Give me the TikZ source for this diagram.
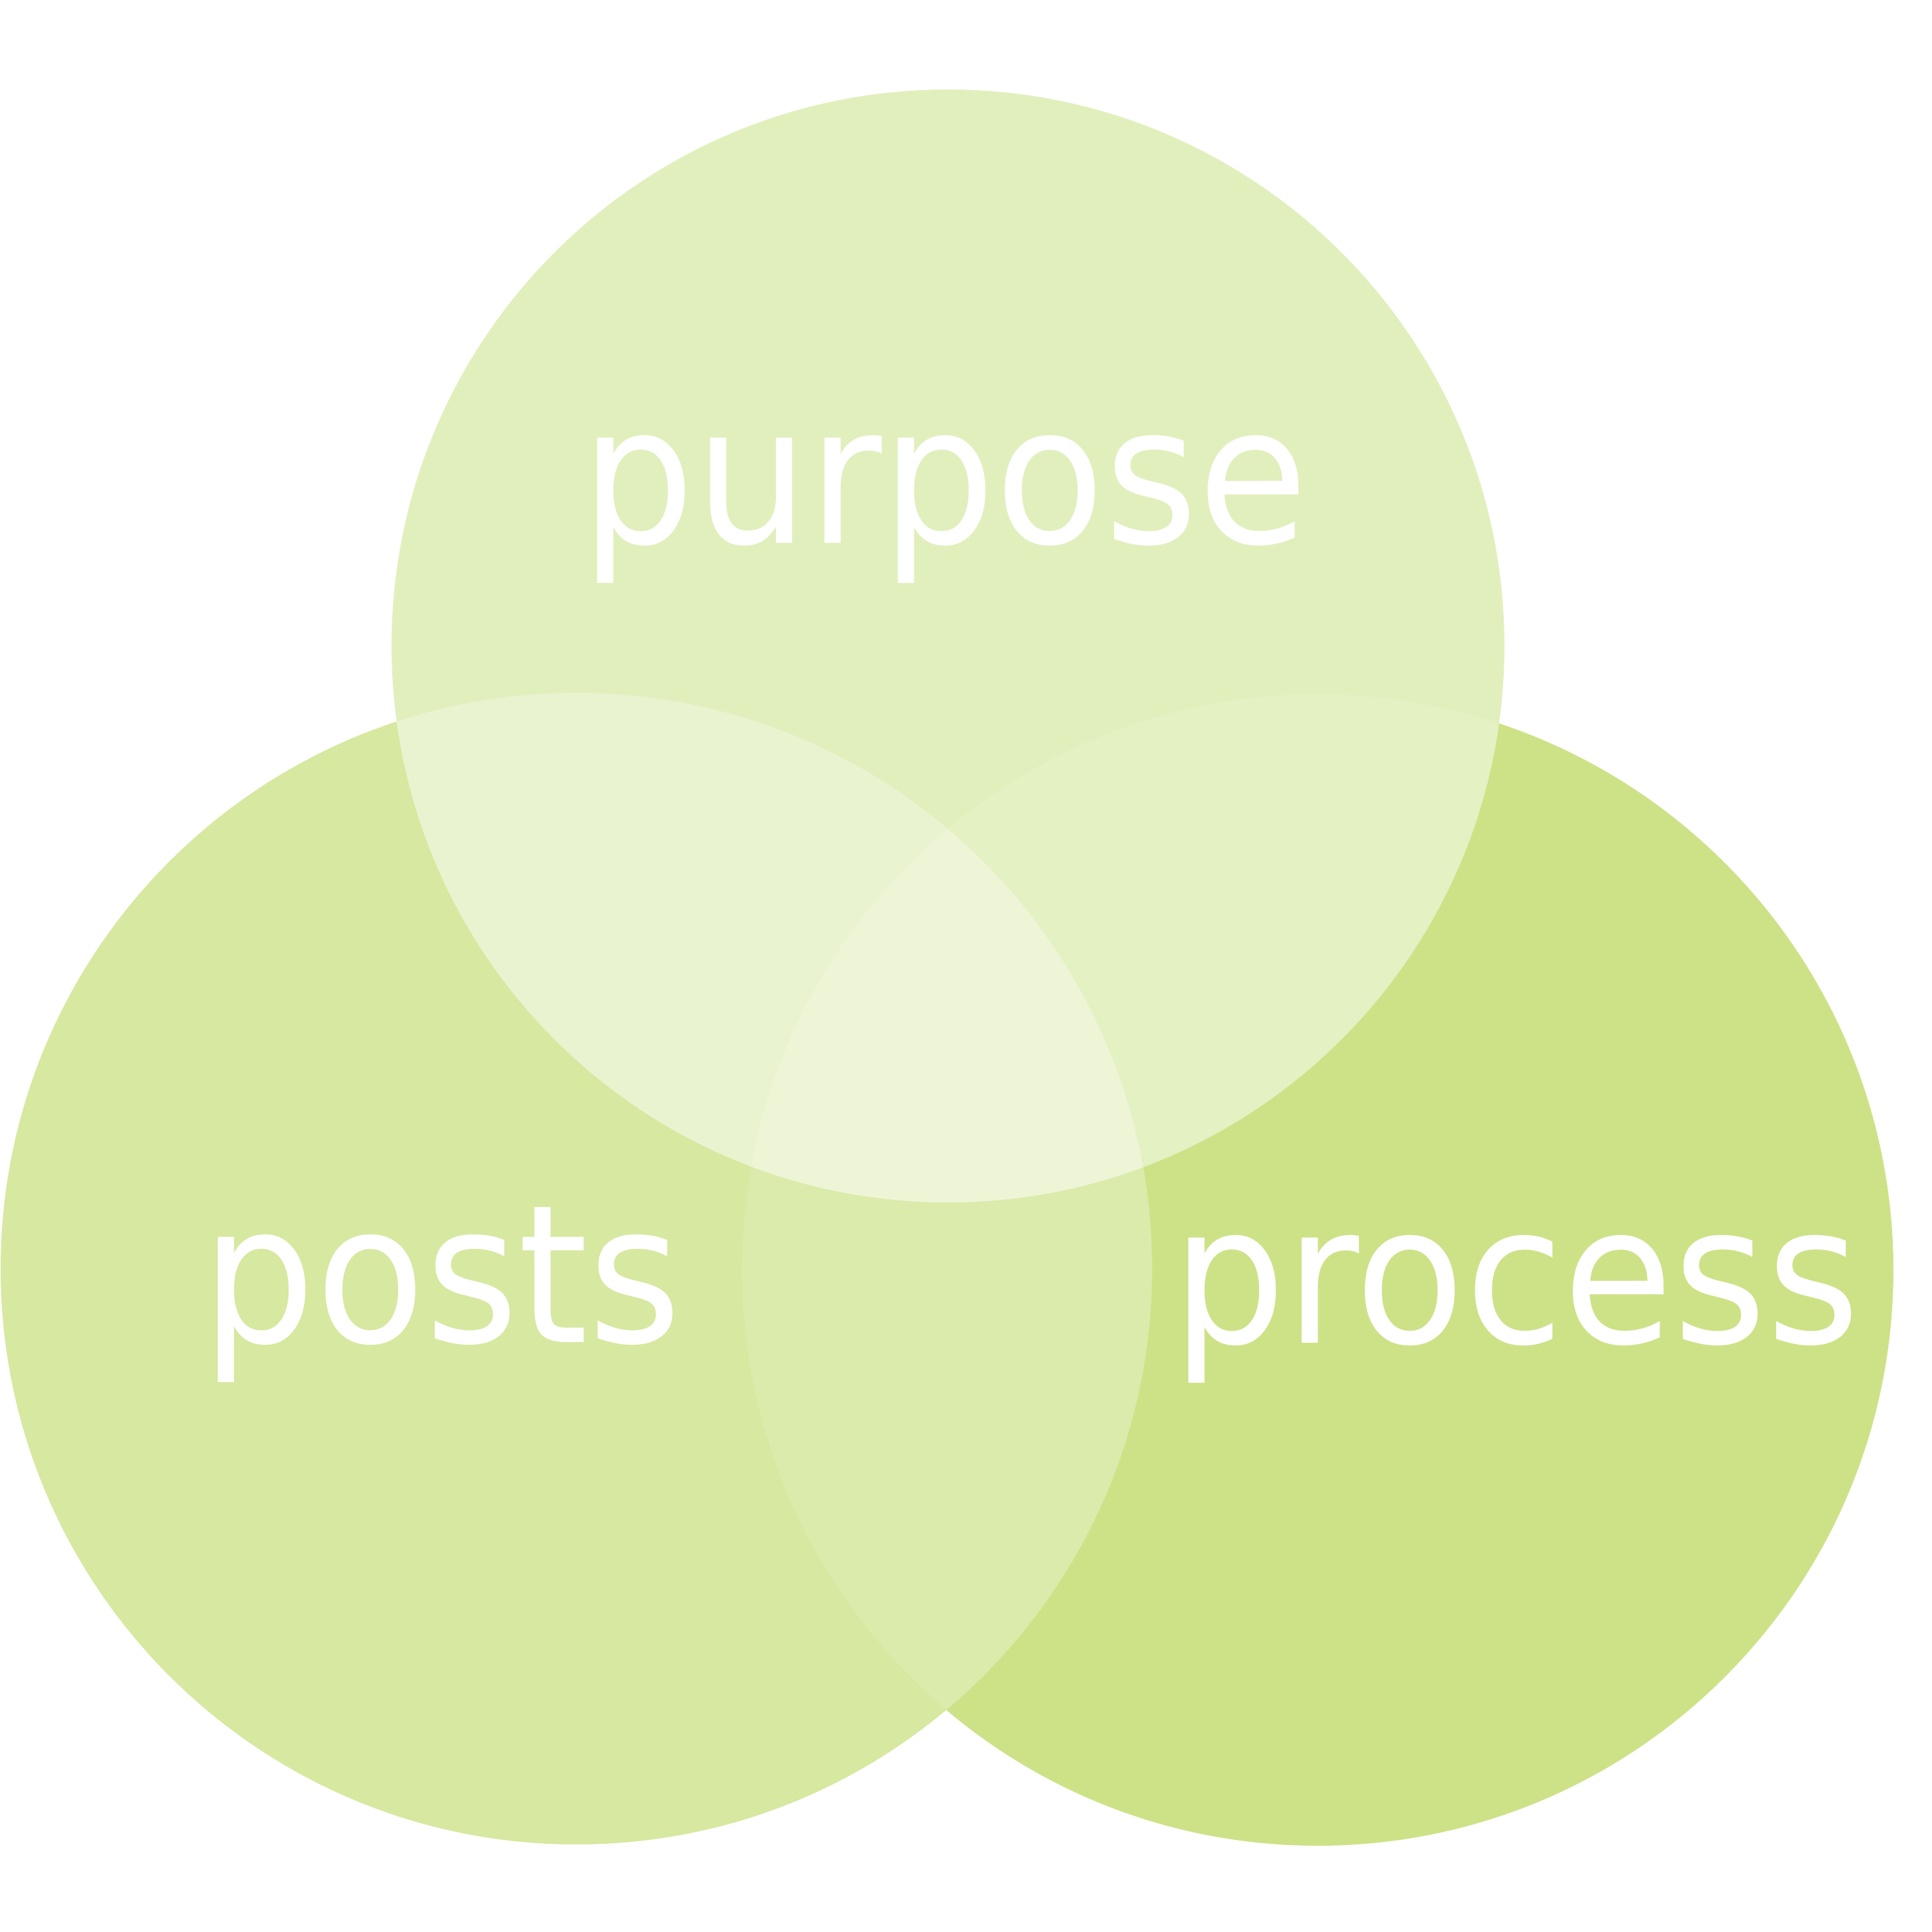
\documentclass[tikz,border=0pt]{standalone}
\usepackage{fontspec}
\setmainfont{DejaVu Sans}[FakeStretch=0.93]
\definecolor{purposeFill}{HTML}{E1EFBD}
\definecolor{postsFill}{HTML}{D7E8A0}
\definecolor{processFill}{HTML}{CDE287}
\definecolor{purposePosts}{HTML}{EAF3D0}
\definecolor{purposeProcess}{HTML}{E4F1C3}
\definecolor{postsProcess}{HTML}{DBEBAB}
\definecolor{allThree}{HTML}{EEF5D6}
\begin{document}
\begin{tikzpicture}[
    word/.style ={text=white, font=\fontsize{85}{100}\selectfont, anchor=base, inner sep=0pt}]
   \useasboundingbox (0,0) rectangle (30,-30);
   \coordinate (T) at (14.72,-10.03);
   \coordinate (L) at (8.95,-19.70);
   \coordinate (R) at (20.46,-19.72);
   \def\rTop{8.64}
   \def\rLow{8.94}

   \fill[postsFill] (L) circle (\rLow);
   \fill[processFill] (R) circle (\rLow);
   \fill[purposeFill] (T) circle (\rTop);
   \begin{scope}
     \clip (L) circle (\rLow);
     \fill[postsProcess] (R) circle (\rLow);
     \fill[purposePosts] (T) circle (\rTop);
     \clip (R) circle (\rLow);
     \fill[allThree] (T) circle (\rTop);
   \end{scope}
   \begin{scope}
     \clip (R) circle (\rLow);
     \clip (T) circle (\rTop);
     \fill[purposeProcess, even odd rule] (-1,1) rectangle (31,-31) (L) circle (\rLow);
   \end{scope}

   \node[word] (purpose) at (14.67,-8.43) {purpose};
   \node[word] (posts)   at (6.86,-20.84) {posts};
   \node[word] (process) at (23.54,-20.85) {process};
 \end{tikzpicture}
\end{document}
